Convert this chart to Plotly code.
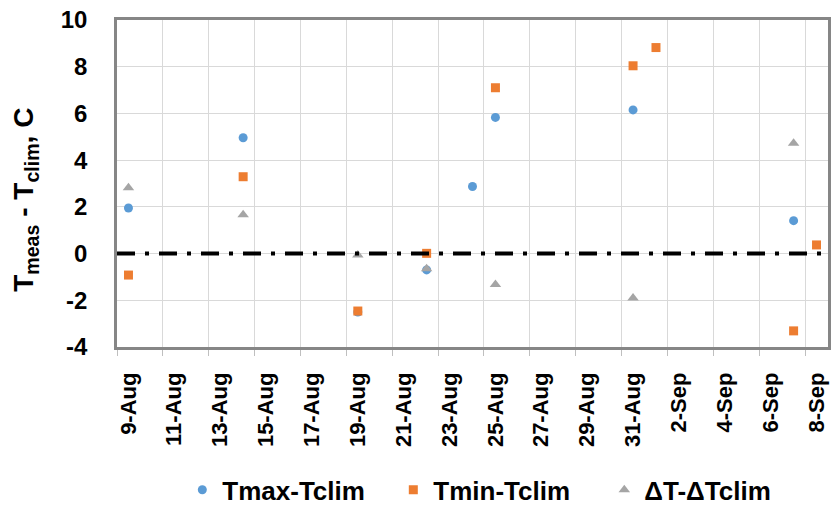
import plotly.graph_objects as go

# ---- data ----
tmax_dates = ["2019-08-09", "2019-08-14", "2019-08-19", "2019-08-22", "2019-08-24",
              "2019-08-25", "2019-08-31", "2019-09-07"]
tmax_vals = [1.95, 4.96, -2.5, -0.70, 2.87, 5.83, 6.15, 1.41]

tmin_dates = ["2019-08-09", "2019-08-14", "2019-08-19", "2019-08-22", "2019-08-25",
              "2019-08-31", "2019-09-01", "2019-09-07", "2019-09-08"]
tmin_vals = [-0.92, 3.29, -2.46, 0.01, 7.10, 8.04, 8.82, -3.31, 0.37]

dt_dates = ["2019-08-09", "2019-08-14", "2019-08-19", "2019-08-22", "2019-08-25",
            "2019-08-31", "2019-09-07"]
dt_vals = [2.82, 1.66, -0.06, -0.65, -1.32, -1.90, 4.72]

tick_dates = ["2019-08-09", "2019-08-11", "2019-08-13", "2019-08-15", "2019-08-17",
              "2019-08-19", "2019-08-21", "2019-08-23", "2019-08-25", "2019-08-27",
              "2019-08-29", "2019-08-31", "2019-09-02", "2019-09-04", "2019-09-06",
              "2019-09-08"]
tick_labels = ["9-Aug", "11-Aug", "13-Aug", "15-Aug", "17-Aug", "19-Aug", "21-Aug",
               "23-Aug", "25-Aug", "27-Aug", "29-Aug", "31-Aug", "2-Sep", "4-Sep",
               "6-Sep", "8-Sep"]

y_tick_vals = [-4, -2, 0, 2, 4, 6, 8, 10]
y_tick_labels = ["-4", "-2", "0", "2", "4", "6", "8", "10"]

x_range = ["2019-08-08 12:00", "2019-09-08 12:00"]
y_range = [-4, 10]

FONT = "Liberation Sans, Arial, sans-serif"
BLUE, ORANGE, GRAY = "#5B9BD5", "#ED7D31", "#A5A5A5"

fig = go.Figure()
fig.add_trace(go.Scatter(x=tmax_dates, y=tmax_vals, mode="markers", name="Tmax-Tclim",
                         marker=dict(symbol="circle", size=9, color=BLUE)))
fig.add_trace(go.Scatter(x=tmin_dates, y=tmin_vals, mode="markers", name="Tmin-Tclim",
                         marker=dict(symbol="square", size=9, color=ORANGE)))
fig.add_trace(go.Scatter(x=dt_dates, y=dt_vals, mode="markers", name="ΔT-ΔTclim",
                         marker=dict(symbol="triangle-up", size=10, color=GRAY)))

fig.add_hline(y=0, line=dict(color="black", width=4, dash="18px,10px,4px,10px"), layer="above")

fig.add_annotation(
    text="T<sub>meas</sub> - T<sub>clim</sub>, C",
    xref="paper", yref="paper", x=-0.128, y=0.45, xanchor="center", yanchor="middle",
    textangle=-90, showarrow=False,
    font=dict(size=28, family=FONT, weight="bold", color="black"),
)

fig.update_layout(
    width=832, height=506,
    margin=dict(l=117, r=4, t=20, b=159, autoexpand=False),
    paper_bgcolor="white", plot_bgcolor="white",
    font=dict(family=FONT, color="black"),
    showlegend=True,
    legend=dict(orientation="h", x=0.537, xanchor="center", y=-0.437, yanchor="middle",
                font=dict(size=26, family=FONT, weight="bold", color="black"),
                entrywidth=166, itemwidth=30, bgcolor="rgba(0,0,0,0)"),
)

fig.update_xaxes(
    type="date", range=x_range, autorange=False, automargin=False,
    tickmode="array", tickvals=tick_dates, ticktext=tick_labels,
    tickangle=-90, tickfont=dict(size=22, family=FONT, weight="bold", color="black"),
    ticks="", showgrid=False, ticklabelstandoff=14,
    minor=dict(tick0="2019-08-08 12:00", dtick=2 * 86400000, showgrid=True,
               gridcolor="#D9D9D9", gridwidth=1, ticks="outside", ticklen=6,
               tickcolor="#BFBFBF", tickwidth=1),
    showline=True, linecolor="#868686", linewidth=2.5, mirror=True, zeroline=False,
)

fig.update_yaxes(
    range=y_range, autorange=False, automargin=False, tickmode="array",
    tickvals=y_tick_vals, ticktext=y_tick_labels,
    tickfont=dict(size=24, family=FONT, weight="bold", color="black"),
    ticks="", ticklabelstandoff=22,
    showgrid=True, gridcolor="#D9D9D9", gridwidth=1, zeroline=False,
    showline=True, linecolor="#868686", linewidth=2.5, mirror=True,
)

fig.write_html("out.html")
